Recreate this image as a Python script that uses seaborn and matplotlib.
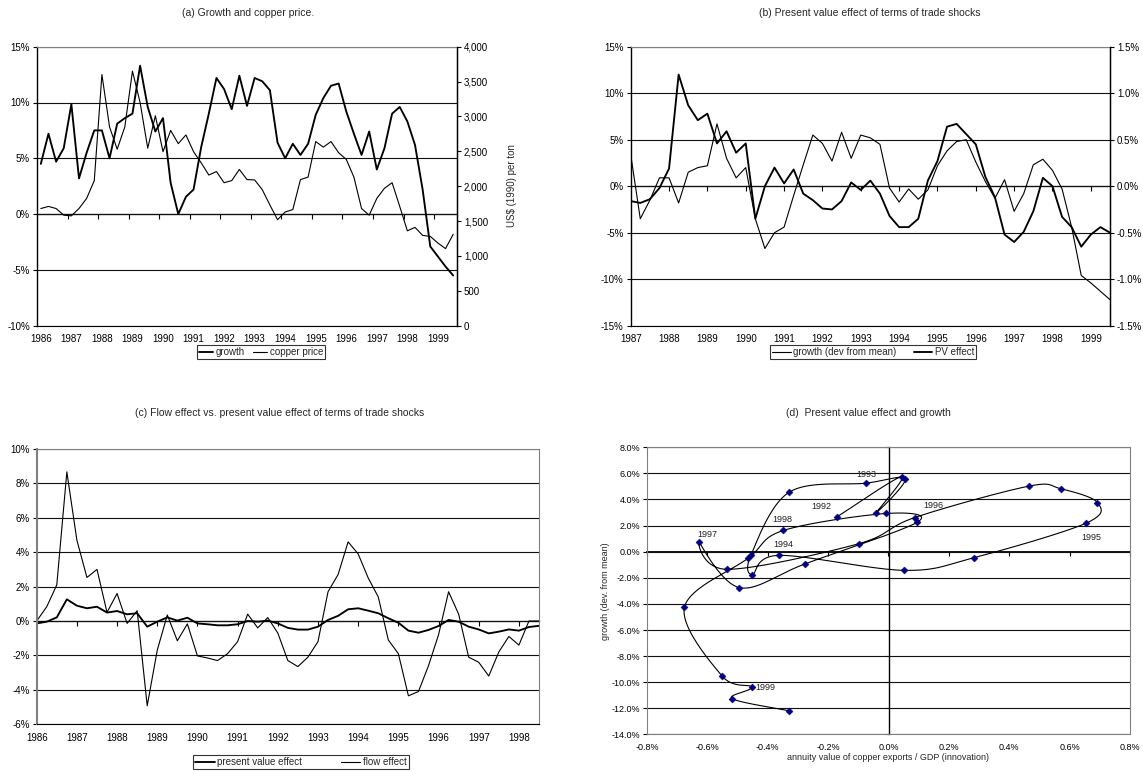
import numpy as np
import matplotlib
matplotlib.use("Agg")
import matplotlib.pyplot as plt
import seaborn as sns
from matplotlib.ticker import FuncFormatter, NullFormatter

# ---------------------------------------------------------------------------
# Panel (a): GDP growth (% y/y) and real copper price, quarterly 1986Q1-1999Q3
# ---------------------------------------------------------------------------
year_labels_a = [str(y) for y in range(1986, 2000)]
growth = [4.5, 7.2, 4.7, 5.9, 9.85, 3.2, 5.5, 7.5, 7.5, 5.0,
          8.1, 8.6, 9.0, 13.3, 9.6, 7.4, 8.6, 2.8, 0.0, 1.55,
          2.2, 6.0, 9.0, 12.2, 11.2, 9.4, 12.4, 9.7, 12.2, 11.9,
          11.1, 6.4, 5.0, 6.3, 5.3, 6.3, 8.9, 10.4, 11.5, 11.7,
          9.2, 7.2, 5.3, 7.4, 4.0, 5.9, 9.0, 9.6, 8.3, 6.2,
          2.2, -2.9, -3.8, -4.7, -5.5]
copper_price = [1680, 1710, 1680, 1585, 1575, 1680, 1825, 2080, 3600, 2850,
                2530, 2850, 3650, 3200, 2545, 3010, 2495, 2800, 2610, 2735,
                2495, 2335, 2160, 2210, 2050, 2080, 2240, 2095, 2090, 1950,
                1730, 1520, 1630, 1665, 2095, 2130, 2640, 2560, 2640, 2480,
                2385, 2130, 1680, 1585, 1825, 1970, 2050, 1710, 1360, 1410,
                1295, 1280, 1185, 1105, 1310]

# ---------------------------------------------------------------------------
# Panel (b): growth deviation from mean (%) and PV effect (%), 1987Q1-1999Q3
# ---------------------------------------------------------------------------
year_labels_b = [str(y) for y in range(1987, 2000)]
growth_dev = [3.4, -3.5, -1.5, 0.9, 0.9, -1.8, 1.5, 2.0, 2.2, 6.7,
              3.0, 0.9, 2.0, -3.5, -6.7, -5.0, -4.4, -1.0, 2.3, 5.5,
              4.6, 2.7, 5.8, 3.0, 5.5, 5.2, 4.5, -0.2, -1.7, -0.3,
              -1.4, -0.4, 2.2, 3.8, 4.8, 5.0, 2.6, 0.5, -1.3, 0.7,
              -2.7, -0.8, 2.3, 2.9, 1.7, -0.3, -4.4, -9.6, -10.4, -11.3,
              -12.2]
pv_effect = [-0.16, -0.18, -0.14, -0.02, 0.19, 1.20, 0.87, 0.71, 0.78, 0.46,
             0.59, 0.36, 0.46, -0.35, 0.00, 0.20, 0.03, 0.18, -0.08, -0.15,
             -0.24, -0.25, -0.16, 0.04, -0.04, 0.06, -0.08, -0.32, -0.44, -0.44,
             -0.35, 0.06, 0.27, 0.64, 0.67, 0.56, 0.45, 0.10, -0.12, -0.52,
             -0.60, -0.49, -0.27, 0.09, 0.00, -0.33, -0.44, -0.65, -0.52, -0.44,
             -0.50]

# ---------------------------------------------------------------------------
# Panel (c): present value effect vs flow effect (%), quarterly
# ---------------------------------------------------------------------------
year_labels_c = [str(y) for y in range(1986, 1999)]
pv_effect_c = [-0.14, -0.04, 0.21, 1.26, 0.89, 0.74, 0.83, 0.49, 0.58, 0.39,
               0.45, -0.33, -0.04, 0.21, 0.02, 0.19, -0.14, -0.19, -0.25, -0.25,
               -0.19, 0.00, -0.04, 0.02, -0.14, -0.40, -0.50, -0.50, -0.33, 0.06,
               0.30, 0.68, 0.74, 0.60, 0.45, 0.16, -0.10, -0.56, -0.68, -0.52,
               -0.29, 0.06, -0.04, -0.33, -0.49, -0.72, -0.62, -0.49, -0.56, -0.35,
               -0.28]
flow_effect = [0.0, 0.83, 2.1, 8.67, 4.7, 2.53, 3.0, 0.5, 1.6, -0.14,
               0.6, -4.93, -1.7, 0.35, -1.15, -0.17, -2.03, -2.15, -2.3, -1.9,
               -1.2, 0.4, -0.4, 0.2, -0.7, -2.3, -2.65, -2.1, -1.2, 1.7,
               2.7, 4.6, 3.9, 2.5, 1.4, -1.1, -1.9, -4.35, -4.1, -2.6,
               -0.8, 1.7, 0.4, -2.1, -2.4, -3.2, -1.8, -0.9, -1.4, 0.0,
               0.0]

# ---------------------------------------------------------------------------
# Panel (d): annuity value of copper exports / GDP vs growth, 1992Q2-1999Q3
# ---------------------------------------------------------------------------
annuity_value = [-0.172, 0.044, -0.041, 0.056, -0.075, -0.329, -0.455, -0.451, -0.363, 0.053,
                 0.283, 0.655, 0.692, 0.571, 0.464, 0.087, -0.099, -0.535, -0.627, -0.494,
                 -0.275, 0.096, -0.007, -0.348, -0.464, -0.676, -0.551, -0.453, -0.518, -0.331]
growth_dev_d = [2.65, 5.76, 2.98, 5.58, 5.25, 4.56, -0.23, -1.76, -0.28, -1.43,
                -0.46, 2.19, 3.77, 4.82, 5.02, 2.62, 0.61, -1.35, 0.74, -2.75,
                -0.92, 2.27, 2.93, 1.63, -0.48, -4.25, -9.53, -10.37, -11.26, -12.18]
point_years = {0: "1992", 4: "1993", 8: "1994", 11: "1995",
               15: "1996", 18: "1997", 23: "1998", 27: "1999"}
# where each year tag sits relative to its point (pixels, up is positive)
tag_offsets = {0: (-15, 11), 4: (0, 9), 8: (4, 11), 11: (5, -14),
               15: (19, 12), 18: (8, 8), 23: (-1, 11), 27: (14, 0)}

# ---------------------------------------------------------------------------
sns.set_theme(style="white")
plt.rcParams["font.family"] = ["Liberation Sans", "DejaVu Sans"]
plt.rcParams["axes.unicode_minus"] = False

W, H = 1143, 771
fig = plt.figure(figsize=(W / 100, H / 100), dpi=100)
fig.patch.set_facecolor("white")


def rect(x0, y0, x1, y1):
    return [x0 / W, 1 - y1 / H, (x1 - x0) / W, (y1 - y0) / H]


def pct0(v, _pos=None):
    v = round(v, 6) + 0.0
    return f"{v:.0f}%"


def pct1(v, _pos=None):
    v = round(v, 6) + 0.0
    return f"{v:.1f}%"


GRID = "#111111"
BORDER = "#808080"
THICK, THIN = 1.35, 0.8
TICKFS = 7


def category_panel(ax, n_cats, labels, between, ylim, ystep, fmt, boundaries):
    off = 0.5 if between else 0.0
    ax.set_xlim(0, n_cats if between else n_cats - 1)
    ax.set_xticks([4 * k + off for k in range(len(labels))])
    ax.set_xticklabels(labels)
    ax.tick_params(axis="x", length=0, pad=6, labelsize=TICKFS, colors="black")
    ax.set_ylim(*ylim)
    ax.set_yticks(np.arange(ylim[0], ylim[1] + 1e-9, ystep))
    ax.yaxis.set_major_formatter(FuncFormatter(fmt))
    ax.tick_params(axis="y", direction="out", length=3, width=0.8, pad=2,
                   labelsize=TICKFS, color="black", labelcolor="black", left=True)
    ax.grid(axis="y", color=GRID, lw=0.8)
    ax.grid(axis="x", visible=False)
    ax.set_axisbelow(True)
    ax.set_xlabel("")
    ax.set_ylabel("")
    # category axis drawn through the zero line
    zero = (0 - ylim[0]) / (ylim[1] - ylim[0])
    sec = ax.secondary_xaxis(zero)
    sec.set_alignment("bottom")
    sec.set_xticks(boundaries)
    sec.xaxis.set_major_formatter(NullFormatter())
    sec.tick_params(axis="x", direction="out", length=3.5, width=0.8, color="black")
    sec.spines["bottom"].set_color("black")
    sec.spines["bottom"].set_linewidth(0.9)
    return sec


def frame(ax, left, right, top, bottom, lw_left=1.0):
    ax.spines["left"].set_color(left)
    ax.spines["left"].set_linewidth(lw_left)
    ax.spines["right"].set_color(right)
    ax.spines["top"].set_color(top)
    ax.spines["bottom"].set_color(bottom)
    for s in ("right", "top", "bottom"):
        ax.spines[s].set_linewidth(0.8)


def drop_legend(ax):
    leg = ax.get_legend()
    if leg is not None:
        leg.remove()


def box_legend(handles, labels, cx, cy, spacing, handle_len=2.0):
    leg = fig.legend(handles, labels, loc="center", bbox_to_anchor=(cx / W, 1 - cy / H),
                     ncol=2, frameon=True, fancybox=False, edgecolor="black",
                     fontsize=TICKFS, handlelength=handle_len, handletextpad=0.25,
                     columnspacing=spacing, borderpad=0.2, borderaxespad=0)
    leg.get_frame().set_linewidth(0.8)
    leg.get_frame().set_facecolor("white")


# ----------------------------- panel (a) ----------------------------------
ax_a = fig.add_axes(rect(37, 46.7, 457, 325.7))
xa = np.arange(len(growth)) + 0.5
sns.lineplot(x=xa, y=growth, ax=ax_a, color="black", lw=THICK, label="growth")
category_panel(ax_a, len(growth), year_labels_a, True, (-10, 15), 5, pct0,
               list(range(4, 53, 4)))
frame(ax_a, "black", "black", BORDER, "black")
ax_a2 = ax_a.twinx()
sns.lineplot(x=xa, y=copper_price, ax=ax_a2, color="black", lw=THIN, label="copper price")
ax_a2.set_ylim(0, 4000)
ax_a2.set_yticks(np.arange(0, 4001, 500))
ax_a2.yaxis.set_major_formatter(FuncFormatter(lambda v, p: f"{v:,.0f}"))
ax_a2.tick_params(axis="y", direction="out", length=3, width=0.8, pad=2,
                  labelsize=TICKFS, color="black", labelcolor="black", right=True)
ax_a2.grid(False)
ax_a2.set_ylabel("")
for s in ("left", "top", "bottom"):
    ax_a2.spines[s].set_visible(False)
ax_a2.spines["right"].set_color("black")
ax_a2.spines["right"].set_linewidth(1.0)
h1, l1 = ax_a.get_legend_handles_labels()
h2, l2 = ax_a2.get_legend_handles_labels()
drop_legend(ax_a)
drop_legend(ax_a2)
box_legend(h1 + h2, l1 + l2, 261, 352, 0.8, handle_len=1.5)
fig.text(512 / W, 1 - 186 / H, "US$ (1990) per ton", rotation=90,
         ha="center", va="center", fontsize=TICKFS)
fig.text(248 / W, 1 - 13 / H, "(a) Growth and copper price.", ha="center",
         va="center", fontsize=7.5)

# ----------------------------- panel (b) ----------------------------------
ax_b = fig.add_axes(rect(630.7, 46.7, 1110, 325.7))
xb = np.arange(len(growth_dev))
sns.lineplot(x=xb, y=growth_dev, ax=ax_b, color="black", lw=THIN,
             label="growth (dev from mean)")
category_panel(ax_b, len(growth_dev), year_labels_b, False, (-15, 15), 5, pct0,
               list(range(4, 49, 4)))
frame(ax_b, "black", "black", BORDER, "black")
ax_b2 = ax_b.twinx()
sns.lineplot(x=xb, y=pv_effect, ax=ax_b2, color="black", lw=THICK, label="PV effect")
ax_b2.set_ylim(-1.5, 1.5)
ax_b2.set_yticks(np.arange(-1.5, 1.51, 0.5))
ax_b2.yaxis.set_major_formatter(FuncFormatter(pct1))
ax_b2.tick_params(axis="y", direction="out", length=3, width=0.8, pad=2,
                  labelsize=TICKFS, color="black", labelcolor="black", right=True)
ax_b2.grid(False)
ax_b2.set_ylabel("")
for s in ("left", "top", "bottom"):
    ax_b2.spines[s].set_visible(False)
ax_b2.spines["right"].set_color("black")
ax_b2.spines["right"].set_linewidth(1.0)
h1, l1 = ax_b.get_legend_handles_labels()
h2, l2 = ax_b2.get_legend_handles_labels()
drop_legend(ax_b)
drop_legend(ax_b2)
box_legend(h1 + h2, l1 + l2, 873, 352, 1.8, handle_len=1.9)
fig.text(870 / W, 1 - 13 / H, "(b) Present value effect of terms of trade shocks",
         ha="center", va="center", fontsize=7.5)

# ----------------------------- panel (c) ----------------------------------
ax_c = fig.add_axes(rect(36.7, 449, 539, 724.2))
xc = np.arange(len(flow_effect))
sns.lineplot(x=xc, y=pv_effect_c, ax=ax_c, color="black", lw=THICK,
             label="present value effect")
sns.lineplot(x=xc, y=flow_effect, ax=ax_c, color="black", lw=THIN, label="flow effect")
category_panel(ax_c, len(flow_effect), year_labels_c, False, (-6, 10), 2, pct0,
               list(range(4, 49, 4)))
frame(ax_c, BORDER, BORDER, BORDER, "black", lw_left=1.5)
h, l = ax_c.get_legend_handles_labels()
drop_legend(ax_c)
box_legend(h, l, 301, 762, 4.0)
fig.text(280 / W, 1 - 413 / H,
         "(c) Flow effect vs. present value effect of terms of trade shocks",
         ha="center", va="center", fontsize=7.5)

# ----------------------------- panel (d) ----------------------------------
ax_d = fig.add_axes(rect(647, 447.3, 1130, 734.4))


def smooth_path(xs, ys, steps=24):
    """Bezier smoothing through every point (Catmull-Rom style tangents)."""
    pts = np.column_stack([xs, ys]).astype(float)
    n = len(pts)
    parts = []
    for i in range(n - 1):
        p0 = pts[i - 1] if i > 0 else pts[i]
        p1, p2 = pts[i], pts[i + 1]
        p3 = pts[i + 2] if i + 2 < n else pts[i + 1]
        c1 = p1 + (p2 - p0) / 6.0
        c2 = p2 - (p3 - p1) / 6.0
        t = np.linspace(0, 1, steps, endpoint=(i == n - 2))[:, None]
        parts.append((1 - t) ** 3 * p1 + 3 * (1 - t) ** 2 * t * c1
                     + 3 * (1 - t) * t ** 2 * c2 + t ** 3 * p2)
    return np.vstack(parts)


curve = smooth_path(annuity_value, growth_dev_d)
sns.lineplot(x=curve[:, 0], y=curve[:, 1], ax=ax_d, sort=False, estimator=None,
             color="black", lw=0.8)
sns.scatterplot(x=annuity_value, y=growth_dev_d, ax=ax_d, marker="D", s=13,
                color="#000080", edgecolor="#000080", linewidth=0.3, zorder=5)
for idx, yr in point_years.items():
    dx, dy = tag_offsets[idx]
    ax_d.annotate(yr, (annuity_value[idx], growth_dev_d[idx]), xytext=(dx, dy),
                  textcoords="offset pixels", ha="center", va="center",
                  fontsize=6.5, color="#222222")
ax_d.set_xlim(-0.8, 0.8)
ax_d.set_ylim(-14, 8)
ax_d.set_xticks(np.arange(-0.8, 0.81, 0.2))
ax_d.set_yticks(np.arange(-14, 8.1, 2))
ax_d.xaxis.set_major_formatter(FuncFormatter(pct1))
ax_d.yaxis.set_major_formatter(FuncFormatter(pct1))
ax_d.tick_params(axis="x", length=0, pad=6, labelsize=6.5, colors="black")
ax_d.tick_params(axis="y", direction="out", length=3, width=0.8, pad=2,
                 labelsize=6.5, color="black", labelcolor="black", left=True)
ax_d.grid(axis="y", color=GRID, lw=0.8)
ax_d.grid(axis="x", visible=False)
ax_d.set_axisbelow(True)
ax_d.set_xlabel("")
ax_d.set_ylabel("")
for s in ax_d.spines.values():
    s.set_color(BORDER)
    s.set_linewidth(0.8)
# axes crossing at the origin
sx = ax_d.secondary_xaxis(14 / 22)
sx.set_alignment("bottom")
sx.set_xticks(np.arange(-0.8, 0.81, 0.2))
sx.xaxis.set_major_formatter(NullFormatter())
sx.tick_params(axis="x", direction="out", length=3, width=0.8, color="black")
sx.spines["bottom"].set_color("black")
sx.spines["bottom"].set_linewidth(1.3)
sy = ax_d.secondary_yaxis(0.5)
sy.set_alignment("left")
sy.set_yticks(np.arange(-14, 8.1, 2))
sy.yaxis.set_major_formatter(NullFormatter())
sy.tick_params(axis="y", direction="out", length=3, width=0.8, color="black")
sy.spines["left"].set_color("black")
sy.spines["left"].set_linewidth(1.0)
fig.text(606 / W, 1 - 590.8 / H, "growth (dev. from mean)", rotation=90,
         ha="center", va="center", fontsize=6.5)
fig.text(888 / W, 1 - 758 / H, "annuity value of copper exports / GDP (innovation)",
         ha="center", va="center", fontsize=6.5)
fig.text(868 / W, 1 - 413 / H, "(d)  Present value effect and growth",
         ha="center", va="center", fontsize=7.5)

fig.savefig("out.png", dpi=100, facecolor="white")
